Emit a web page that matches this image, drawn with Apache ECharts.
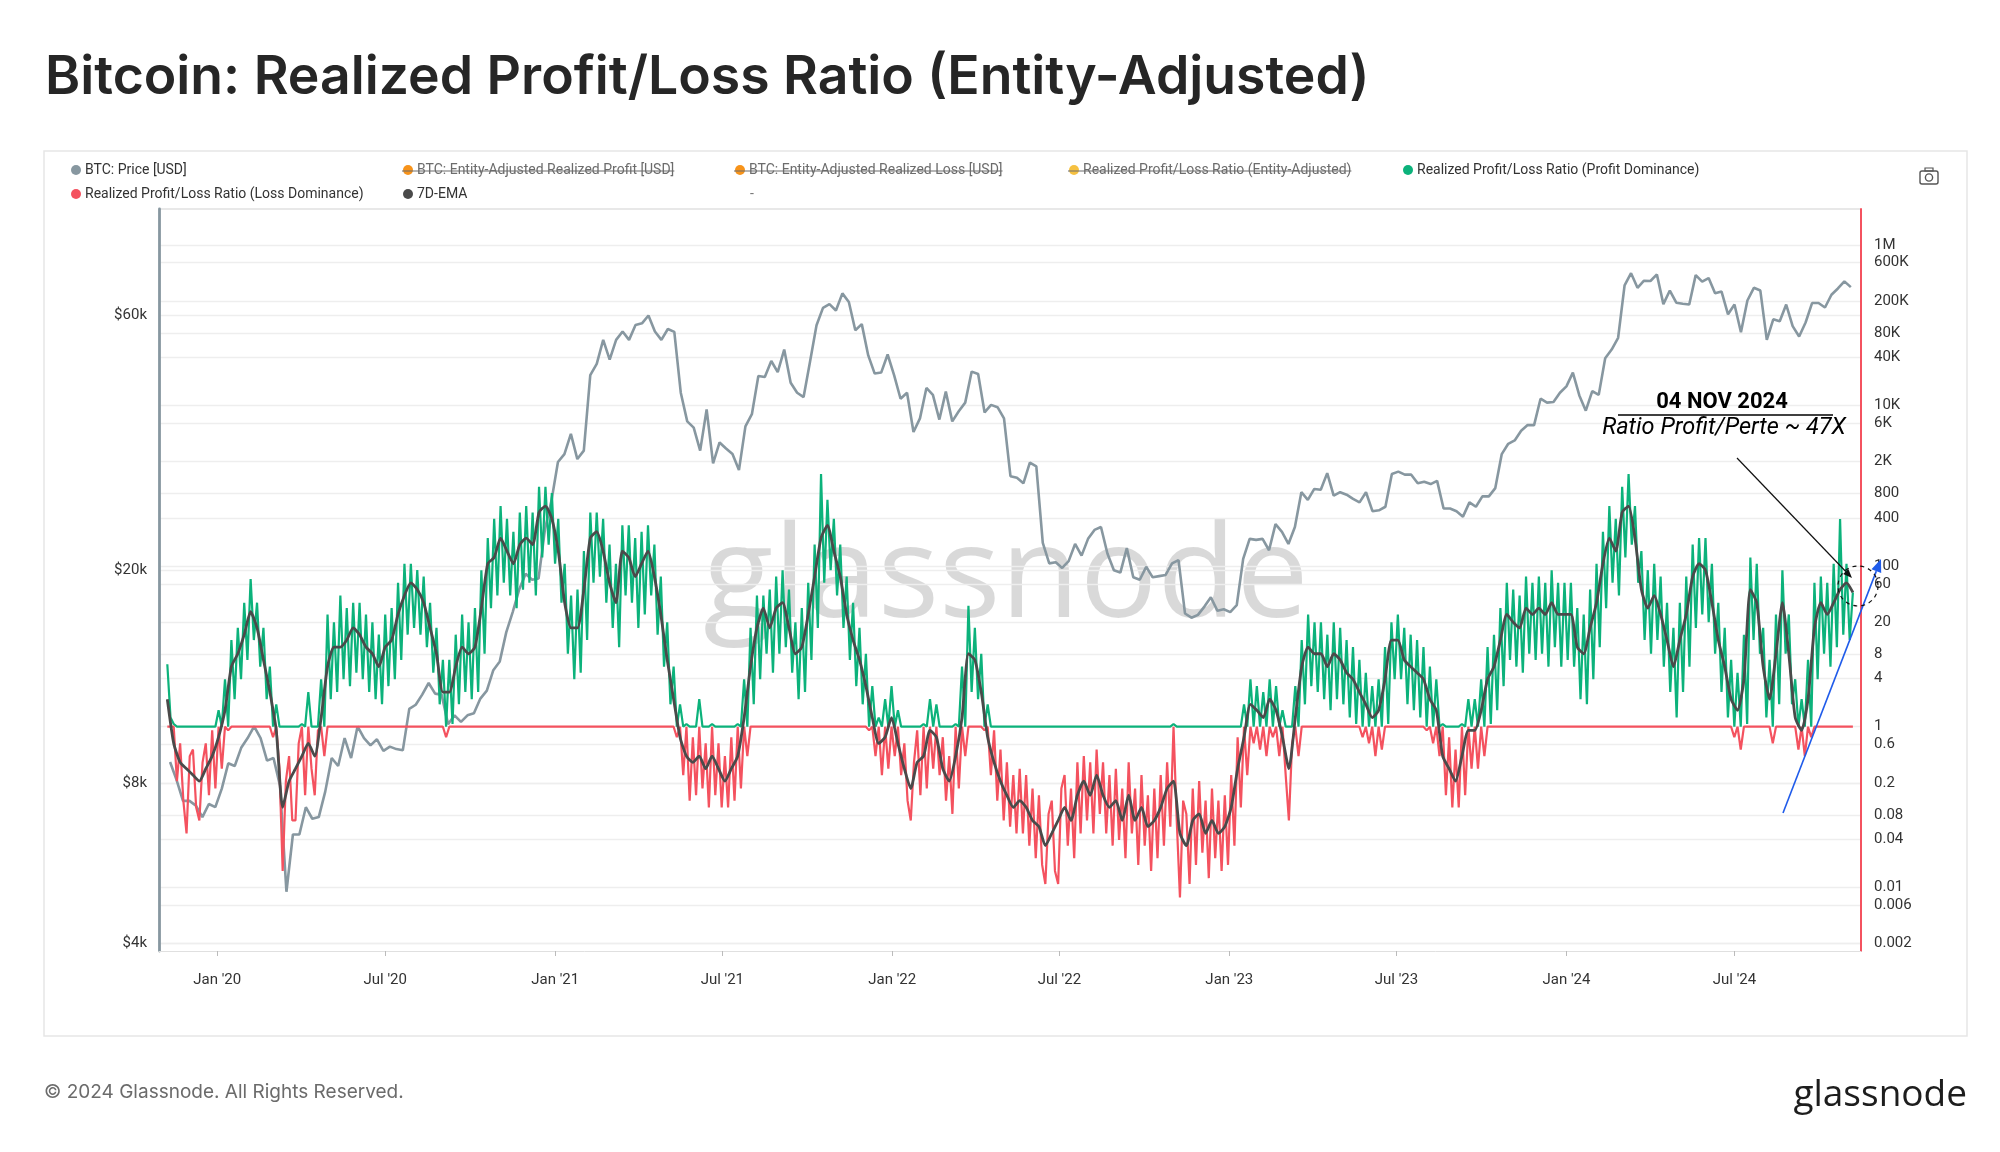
<!DOCTYPE html>
<html lang="en">
<head>
<meta charset="UTF-8">
<title>Bitcoin: Realized Profit/Loss Ratio (Entity-Adjusted)</title>
<script src="https://cdn.jsdelivr.net/npm/echarts@6/dist/echarts.min.js"></script>
<style>
  html, body { margin: 0; padding: 0; background: #fff; }
  #chart { width: 2000px; height: 1152px; }
</style>
</head>
<body>
<div id="chart"></div>
<script>
const DAY = 86400000;

// BTC price, weekly closes in USD, starting 11 Nov 2019
const priceStart = Date.UTC(2019, 10, 11);
const priceUsd = [
  8750, 8100, 7400, 7400, 7250, 6900, 7300, 7200,
  // 2020
  7800, 8700, 8600, 9300, 9700, 10200, 9700, 8800, 8900, 7900,
  5000, 6400, 6400, 7200, 6850, 6900, 7700, 8900, 8600, 9700,
  8900, 10200, 9700, 9400, 9650, 9180, 9350, 9250, 9200, 11000,
  11200, 11700, 12300, 11750, 11700, 10300, 10700, 10400, 10700, 10800,
  11500, 11900, 13000, 13500, 15300, 16700, 18400, 19700, 19200, 19300,
  23900, 27000,
  // 2021
  31900, 33000, 36000, 32300, 33500, 46400, 48700, 54000, 49600, 54000,
  56000, 54000, 57600, 58000, 60000, 56000, 54000, 56600, 55900, 43000,
  38000, 37000, 33500, 40000, 31700, 34700, 33800, 33000, 30800, 37200,
  39200, 46200, 46000, 49300, 47000, 51800, 44900, 43000, 42200, 49200,
  57500, 62000, 63000, 61300, 66000, 63600, 56300, 57800, 50500, 46700,
  46900, 50700,
  // 2022
  46400, 41900, 43000, 36300, 38500, 43900, 42600, 38300, 43200, 38000,
  39700, 41200, 47100, 46600, 39500, 40800, 40400, 38500, 30000, 29800,
  29100, 31800, 31300, 22500, 20600, 20700, 20200, 20800, 22400, 21300,
  22900, 23800, 24100, 21500, 20000, 19800, 22000, 19400, 19200, 20300,
  19400, 19500, 19600, 20600, 20900, 16600, 16300, 16500, 17100, 17800,
  16800, 16900,
  // 2023
  16700, 17200, 21000, 22900, 22800, 22900, 21800, 24400, 23600, 22400,
  24100, 28000, 27100, 28400, 28300, 30400, 27600, 28000, 27700, 27200,
  26800, 28000, 25800, 25900, 26300, 30300, 30600, 30200, 30200, 29100,
  29300, 29000, 29400, 26100, 26100, 25800, 25200, 26800, 26300, 27500,
  27500, 28500, 33000, 34500, 35000, 36500, 37400, 37400, 41900, 41200,
  41300, 43000,
  // 2024
  44200, 46900, 42500, 39800, 43300, 42600, 49900, 51800, 54500, 68300,
  72000, 67600, 69700, 69600, 71600, 63000, 66800, 63400, 63100, 62900,
  71400, 69400, 70500, 66000, 66500, 60300, 62900, 55800, 64000, 67600,
  66800, 54000, 59000, 58500, 62900, 57300, 54800, 58200, 63300, 63300,
  62100, 65600, 67400, 69500, 67800
];

// Realized profit/loss ratio, read about every 3.5 days from 8 Nov 2019
const ratioStart = Date.UTC(2019, 10, 8);
const ratioStepDays = 3.47;
const ratio = [
  6.0, 1.3, 1.08, 0.21, 0.62, 0.12, 0.047, 0.43, 0.52, 0.099,
  0.068, 0.36, 0.62, 0.14, 0.9, 0.17, 1.6, 0.30, 3.9, 0.9,
  12, 2.2, 17, 3.9, 35, 6.8, 69, 12, 35, 5.6,
  17, 2.2, 5.6, 0.74, 1.9, 0.30, 0.016, 0.21, 0.43, 0.068,
  0.068, 0.62, 1.08, 0.14, 2.7, 0.30, 0.14, 0.9, 3.9, 0.43,
  25, 2.2, 20, 2.7, 43, 3.9, 30, 3.2, 35, 4.7,
  35, 3.9, 25, 2.7, 20, 2.2, 14, 1.9, 25, 3.2,
  30, 3.9, 62, 6.8, 107, 14, 107, 17, 89, 14,
  74, 9.8, 35, 4.7, 17, 1.9, 6.8, 0.74, 6.8, 1.08,
  14, 1.9, 25, 2.7, 20, 2.2, 30, 2.7, 89, 8.1,
  223, 30, 387, 43, 560, 62, 387, 43, 268, 30,
  466, 51, 560, 62, 466, 43, 970, 128, 970, 185,
  810, 107, 387, 35, 107, 8.1, 43, 3.9, 51, 4.7,
  154, 12, 466, 62, 466, 74, 387, 35, 185, 17,
  107, 9.8, 322, 43, 322, 35, 223, 17, 268, 25,
  322, 43, 185, 14, 74, 5.6, 20, 1.9, 5.6, 0.74,
  1.9, 0.25, 1.08, 0.12, 0.74, 0.14, 2.2, 0.17, 0.62, 0.099,
  1.08, 0.14, 0.62, 0.099, 0.43, 0.099, 0.74, 0.12, 1.08, 0.17,
  3.9, 0.43, 17, 1.9, 43, 3.9, 43, 8.1, 51, 4.7,
  74, 8.1, 89, 9.8, 51, 4.7, 20, 2.2, 30, 2.7,
  62, 6.8, 185, 17, 1400, 62, 670, 89, 387, 43,
  185, 17, 74, 6.8, 35, 3.2, 17, 1.9, 8.1, 0.9,
  3.2, 0.43, 1.3, 0.25, 2.2, 0.30, 3.2, 0.43, 1.6, 0.25,
  0.62, 0.12, 0.068, 0.36, 0.9, 0.14, 1.08, 0.17, 2.2, 0.30,
  1.9, 0.25, 0.74, 0.12, 0.43, 0.082, 1.08, 0.17, 5.6, 0.43,
  32, 2.7, 17, 2.2, 8.1, 0.9, 1.9, 0.25, 0.9, 0.12,
  0.52, 0.068, 0.36, 0.057, 0.25, 0.047, 0.30, 0.047, 0.25, 0.033,
  0.17, 0.023, 0.14, 0.019, 0.011, 0.082, 0.12, 0.016, 0.011, 0.17,
  0.25, 0.033, 0.17, 0.023, 0.36, 0.047, 0.43, 0.068, 0.36, 0.047,
  0.52, 0.082, 0.36, 0.047, 0.25, 0.033, 0.30, 0.039, 0.17, 0.023,
  0.36, 0.047, 0.17, 0.019, 0.25, 0.033, 0.14, 0.016, 0.17, 0.023,
  0.25, 0.033, 0.36, 0.057, 1.08, 0.068, 0.0075, 0.12, 0.082, 0.011,
  0.17, 0.019, 0.21, 0.027, 0.12, 0.013, 0.17, 0.023, 0.12, 0.016,
  0.14, 0.019, 0.25, 0.033, 0.74, 0.099, 1.9, 0.25, 3.9, 0.62,
  3.2, 0.52, 2.7, 0.43, 3.9, 0.74, 3.2, 0.43, 1.6, 0.25,
  0.068, 0.62, 3.2, 0.43, 12, 1.9, 25, 3.2, 20, 2.7,
  20, 2.2, 14, 1.6, 20, 2.2, 17, 1.9, 12, 1.3,
  9.8, 1.08, 6.8, 0.74, 4.7, 0.62, 3.2, 0.43, 3.9, 0.52,
  9.8, 1.08, 20, 3.9, 25, 3.9, 17, 1.9, 14, 1.6,
  12, 1.3, 9.8, 0.9, 5.6, 0.62, 3.9, 0.43, 1.08, 0.14,
  0.74, 0.099, 0.52, 0.099, 1.08, 0.14, 2.2, 0.30, 2.2, 0.30,
  3.9, 0.43, 9.8, 1.08, 14, 1.6, 30, 3.2, 62, 6.8,
  51, 5.6, 43, 4.7, 74, 8.1, 62, 6.8, 74, 8.1,
  62, 5.6, 89, 9.8, 62, 5.6, 62, 6.8, 62, 5.6,
  30, 2.2, 25, 1.9, 51, 3.9, 107, 9.8, 268, 30,
  560, 62, 387, 43, 970, 128, 1400, 185, 560, 62,
  154, 12, 89, 8.1, 107, 12, 74, 5.6, 35, 2.7,
  17, 1.3, 35, 2.7, 74, 5.6, 185, 17, 223, 25,
  223, 20, 107, 8.1, 35, 2.7, 17, 1.3, 6.8, 0.74,
  4.7, 0.52, 14, 1.08, 128, 12, 107, 8.1, 17, 1.3,
  6.8, 0.62, 25, 1.9, 89, 8.1, 25, 1.9, 3.9, 0.52,
  2.2, 0.43, 6.8, 0.74, 62, 3.9, 74, 8.1, 62, 5.6,
  107, 9.8, 387, 14, 107, 12, 47
];

// 7D-EMA of the ratio, read about every 7 days from 8 Nov 2019
const emaStepDays = 6.94;
const ema7d = [
  2.2, 0.62, 0.36, 0.30, 0.25, 0.21, 0.30, 0.43, 0.74, 1.6,
  5.6, 8.1, 14, 27, 17, 6.8, 2.7, 0.9, 0.099, 0.21,
  0.30, 0.43, 0.62, 0.43, 1.3, 5.6, 9.8, 9.8, 12, 17,
  14, 9.8, 8.1, 5.6, 9.8, 12, 25, 43, 62, 51,
  35, 17, 8.1, 2.7, 2.7, 5.6, 9.8, 8.1, 9.8, 30,
  107, 128, 223, 154, 107, 185, 223, 185, 466, 560,
  387, 154, 35, 17, 17, 51, 223, 268, 154, 62,
  35, 154, 128, 74, 107, 154, 74, 25, 6.8, 2.2,
  0.74, 0.43, 0.36, 0.43, 0.30, 0.43, 0.30, 0.21, 0.30, 0.43,
  1.3, 5.6, 17, 30, 17, 30, 35, 17, 8.1, 9.8,
  25, 74, 223, 322, 154, 74, 25, 12, 6.8, 3.2,
  1.3, 0.62, 0.74, 1.3, 0.62, 0.30, 0.17, 0.36, 0.43, 0.9,
  0.74, 0.30, 0.21, 0.43, 1.3, 8.1, 6.8, 2.7, 0.74, 0.36,
  0.21, 0.14, 0.099, 0.12, 0.099, 0.068, 0.057, 0.033, 0.047, 0.068,
  0.099, 0.068, 0.14, 0.21, 0.14, 0.25, 0.14, 0.099, 0.12, 0.068,
  0.14, 0.068, 0.099, 0.057, 0.068, 0.099, 0.17, 0.21, 0.047, 0.033,
  0.068, 0.082, 0.047, 0.068, 0.047, 0.057, 0.099, 0.30, 0.74, 1.9,
  1.6, 1.3, 2.2, 1.6, 0.74, 0.30, 1.3, 5.6, 9.8, 8.1,
  8.1, 5.6, 8.1, 6.8, 4.7, 3.9, 2.7, 1.9, 1.3, 1.6,
  3.9, 12, 12, 6.8, 5.6, 4.7, 3.9, 2.2, 1.6, 0.43,
  0.30, 0.21, 0.43, 0.9, 0.9, 1.6, 3.9, 5.6, 12, 25,
  20, 17, 30, 25, 30, 25, 35, 25, 25, 25,
  9.8, 8.1, 17, 35, 107, 223, 154, 466, 560, 223,
  51, 30, 43, 25, 12, 5.6, 12, 25, 74, 107,
  89, 35, 12, 5.6, 2.2, 1.6, 3.9, 51, 35, 5.6,
  2.2, 8.1, 35, 8.1, 1.3, 0.9, 2.2, 17, 35, 25,
  35, 51, 62, 47
];

const xTicks = [
  Date.UTC(2020, 0, 1), Date.UTC(2020, 6, 1), Date.UTC(2021, 0, 1), Date.UTC(2021, 6, 1),
  Date.UTC(2022, 0, 1), Date.UTC(2022, 6, 1), Date.UTC(2023, 0, 1), Date.UTC(2023, 6, 1),
  Date.UTC(2024, 0, 1), Date.UTC(2024, 6, 1)
];
const priceTicks = [4000, 8000, 20000, 60000];
const ratioTicks = [0.002, 0.006, 0.01, 0.04, 0.08, 0.2, 0.6, 1, 4, 8, 20, 60, 100,
  400, 800, 2000, 6000, 10000, 40000, 80000, 200000, 600000, 1000000];

// build series tables
const priceData = priceUsd.map((v, i) => [priceStart + i * 7 * DAY, v]);
const ratioData = ratio.map((v, i) => [ratioStart + i * ratioStepDays * DAY, v]);
const profitData = ratioData.map(d => [d[0], Math.max(d[1], 1)]);
const lossData = ratioData.map(d => [d[0], Math.min(d[1], 1)]);
const emaData = ema7d.map((v, i) => [ratioStart + i * emaStepDays * DAY, v]);

const C_PRICE = '#8797a0';
const C_GREEN = '#0cb27b';
const C_RED = '#f4525f';
const C_EMA = '#4a4a4a';

function fmtRatio(v) {
  if (v >= 1e6) return Math.round(v / 1e6) + 'M';
  if (v >= 1000) return Math.round(v / 1000) + 'K';
  return String(+v.toPrecision(2));
}
function fmtMonth(v) {
  const d = new Date(v);
  return (d.getUTCMonth() === 0 ? 'Jan' : 'Jul') + " '" + String(d.getUTCFullYear()).slice(2);
}

// legend, drawn by hand (some items are switched off and struck through)
const measure = document.createElement('canvas').getContext('2d');
measure.font = '14px Roboto';
const legendItems = [
  { x: 76, y: 170, color: C_PRICE, text: 'BTC: Price [USD]' },
  { x: 408, y: 170, color: '#f7931a', text: 'BTC: Entity-Adjusted Realized Profit [USD]', off: true },
  { x: 740, y: 170, color: '#f7931a', text: 'BTC: Entity-Adjusted Realized Loss [USD]', off: true },
  { x: 1074, y: 170, color: '#f6c141', text: 'Realized Profit/Loss Ratio (Entity-Adjusted)', off: true },
  { x: 1408, y: 170, color: C_GREEN, text: 'Realized Profit/Loss Ratio (Profit Dominance)' },
  { x: 76, y: 194, color: C_RED, text: 'Realized Profit/Loss Ratio (Loss Dominance)' },
  { x: 408, y: 194, color: C_EMA, text: '7D-EMA' }
];

const graphics = [];
graphics.push({
  type: 'rect', z: 0, silent: true,
  shape: { x: 44, y: 151, width: 1923, height: 885 },
  style: { fill: 'none', stroke: '#e6e6e6', lineWidth: 1.5 }
});
graphics.push({
  type: 'line', z: 0, silent: true,
  shape: { x1: 160, y1: 209, x2: 1860, y2: 209 },
  style: { stroke: '#e8e8e8', lineWidth: 2 }
});
legendItems.forEach(it => {
  graphics.push({ type: 'circle', z: 10, shape: { cx: it.x, cy: it.y, r: 5 }, style: { fill: it.color } });
  graphics.push({
    type: 'text', z: 10, x: it.x + 9, y: it.y,
    style: { text: it.text, font: '14px Roboto', fill: it.off ? '#6c6c6c' : '#333', align: 'left', verticalAlign: 'middle' }
  });
  if (it.off) {
    const w = measure.measureText(it.text).width;
    graphics.push({
      type: 'line', z: 11,
      shape: { x1: it.x - 6, y1: it.y + 1, x2: it.x + 9 + w, y2: it.y + 1 },
      style: { stroke: '#6c6c6c', lineWidth: 1.2 }
    });
  }
});
graphics.push({
  type: 'text', z: 10, x: 750, y: 194,
  style: { text: '-', font: '14px Roboto', fill: '#777', align: 'left', verticalAlign: 'middle' }
});
// camera icon
graphics.push({
  type: 'group', x: 1929, y: 177, z: 10,
  children: [
    { type: 'rect', shape: { x: -9, y: -6, width: 18, height: 13, r: 2 }, style: { fill: 'none', stroke: '#555', lineWidth: 1.4 } },
    { type: 'rect', shape: { x: -4, y: -9, width: 8, height: 3 }, style: { fill: 'none', stroke: '#555', lineWidth: 1.2 } },
    { type: 'circle', shape: { cx: 0, cy: 0.5, r: 3.6 }, style: { fill: 'none', stroke: '#555', lineWidth: 1.4 } }
  ]
});
// title, footer, watermark
graphics.push({
  type: 'text', x: 45, y: 78, z: 10,
  style: { text: 'Bitcoin: Realized Profit/Loss Ratio (Entity-Adjusted)', font: '600 53.5px Inter', fill: '#262626', align: 'left', verticalAlign: 'middle' }
});
graphics.push({
  type: 'text', x: 44, y: 1092, z: 10,
  style: { text: '\u00A9 2024 Glassnode. All Rights Reserved.', font: '19px Inter', fill: '#6b6b6b', align: 'left', verticalAlign: 'middle' }
});
graphics.push({
  type: 'text', x: 1967, y: 1095, z: 10,
  style: { text: 'glassnode', font: '500 37px "Open Sans"', fill: '#1d1d1d', align: 'right', verticalAlign: 'middle' }
});
graphics.push({
  type: 'text', x: 1006, y: 580, z: 0, silent: true,
  style: { text: 'glassnode', font: '500 129px "Open Sans"', fill: 'rgba(0,0,0,0.15)', align: 'center', verticalAlign: 'middle' }
});
// annotation
graphics.push({
  type: 'text', x: 1722, y: 402, z: 20,
  style: { text: '04 NOV 2024', font: 'bold 22px Roboto', fill: '#000', align: 'center', verticalAlign: 'middle' }
});
graphics.push({
  type: 'line', z: 20, shape: { x1: 1618, y1: 415, x2: 1833, y2: 415 },
  style: { stroke: '#000', lineWidth: 1.3 }
});
graphics.push({
  type: 'text', x: 1724, y: 428, z: 20,
  style: { text: 'Ratio Profit/Perte ~ 47X', font: 'italic 23.5px Roboto', fill: '#000', align: 'center', verticalAlign: 'middle' }
});
function arrow(x1, y1, x2, y2, color, lw, head) {
  const a = Math.atan2(y2 - y1, x2 - x1);
  const hx = x2 - head * Math.cos(a), hy = y2 - head * Math.sin(a);
  const px = Math.sin(a) * head * 0.4, py = -Math.cos(a) * head * 0.4;
  graphics.push({ type: 'line', z: 20, shape: { x1, y1, x2: hx, y2: hy }, style: { stroke: color, lineWidth: lw } });
  graphics.push({
    type: 'polygon', z: 20,
    shape: { points: [[x2, y2], [hx + px, hy + py], [hx - px, hy - py]] },
    style: { fill: color }
  });
}
arrow(1737, 458, 1852, 578, '#111', 1.2, 9);
arrow(1783, 813, 1881, 559, '#1f5bea', 1.6, 13);
graphics.push({
  type: 'circle', z: 20, shape: { cx: 1858, cy: 586, r: 20 },
  style: { fill: 'none', stroke: '#111', lineWidth: 1.2, lineDash: [4, 4] }
});

const option = {
  animation: false,
  backgroundColor: '#fff',
  grid: { left: 159, right: 139, top: 209, bottom: 201 },
  xAxis: {
    type: 'value',
    min: Date.UTC(2019, 9, 30),
    max: Date.UTC(2024, 10, 15),
    axisLine: { lineStyle: { color: '#e0e0e0', width: 1 } },
    axisTick: { show: true, length: 5, customValues: xTicks, lineStyle: { color: '#bbb' } },
    axisLabel: {
      customValues: xTicks, color: '#333', fontSize: 15, fontFamily: 'Roboto', margin: 22,
      formatter: fmtMonth
    },
    splitLine: { show: false }
  },
  yAxis: [
    {
      type: 'log', logBase: 10, position: 'left',
      min: 3873, max: 94950,
      axisLine: { show: true, lineStyle: { color: C_PRICE, width: 2.8 } },
      axisTick: { show: false, customValues: priceTicks },
      axisLabel: {
        customValues: priceTicks, color: '#333', fontSize: 15, fontFamily: 'Roboto', margin: 12,
        formatter: v => '$' + Math.round(v / 1000) + 'k'
      },
      splitLine: { show: true, lineStyle: { color: '#eeeeee', width: 1.3 } }
    },
    {
      type: 'log', logBase: 10, position: 'right',
      min: 0.00161, max: 2.8e6,
      axisLine: { show: true, lineStyle: { color: C_RED, width: 2 } },
      axisTick: { show: false, customValues: ratioTicks },
      axisLabel: {
        customValues: ratioTicks, color: '#333', fontSize: 15, fontFamily: 'Roboto', margin: 13,
        formatter: fmtRatio
      },
      splitLine: { show: true, lineStyle: { color: '#eeeeee', width: 1.3 } }
    }
  ],
  graphic: { elements: graphics },
  series: [
    {
      name: 'BTC: Price [USD]', type: 'line', yAxisIndex: 0, data: priceData,
      showSymbol: false, symbol: 'none', z: 3,
      lineStyle: { color: C_PRICE, width: 2.6 }
    },
    {
      name: 'Realized Profit/Loss Ratio (Profit Dominance)', type: 'line', yAxisIndex: 1, data: profitData,
      showSymbol: false, symbol: 'none', z: 4,
      lineStyle: { color: C_GREEN, width: 2.2 }
    },
    {
      name: 'Realized Profit/Loss Ratio (Loss Dominance)', type: 'line', yAxisIndex: 1, data: lossData,
      showSymbol: false, symbol: 'none', z: 5,
      lineStyle: { color: C_RED, width: 2.2 }
    },
    {
      name: '7D-EMA', type: 'line', yAxisIndex: 1, data: emaData,
      showSymbol: false, symbol: 'none', z: 6, smooth: 0.2,
      lineStyle: { color: C_EMA, width: 2.8 }
    }
  ]
};

const chart = echarts.init(document.getElementById('chart'));
chart.setOption(option);
</script>
</body>
</html>
